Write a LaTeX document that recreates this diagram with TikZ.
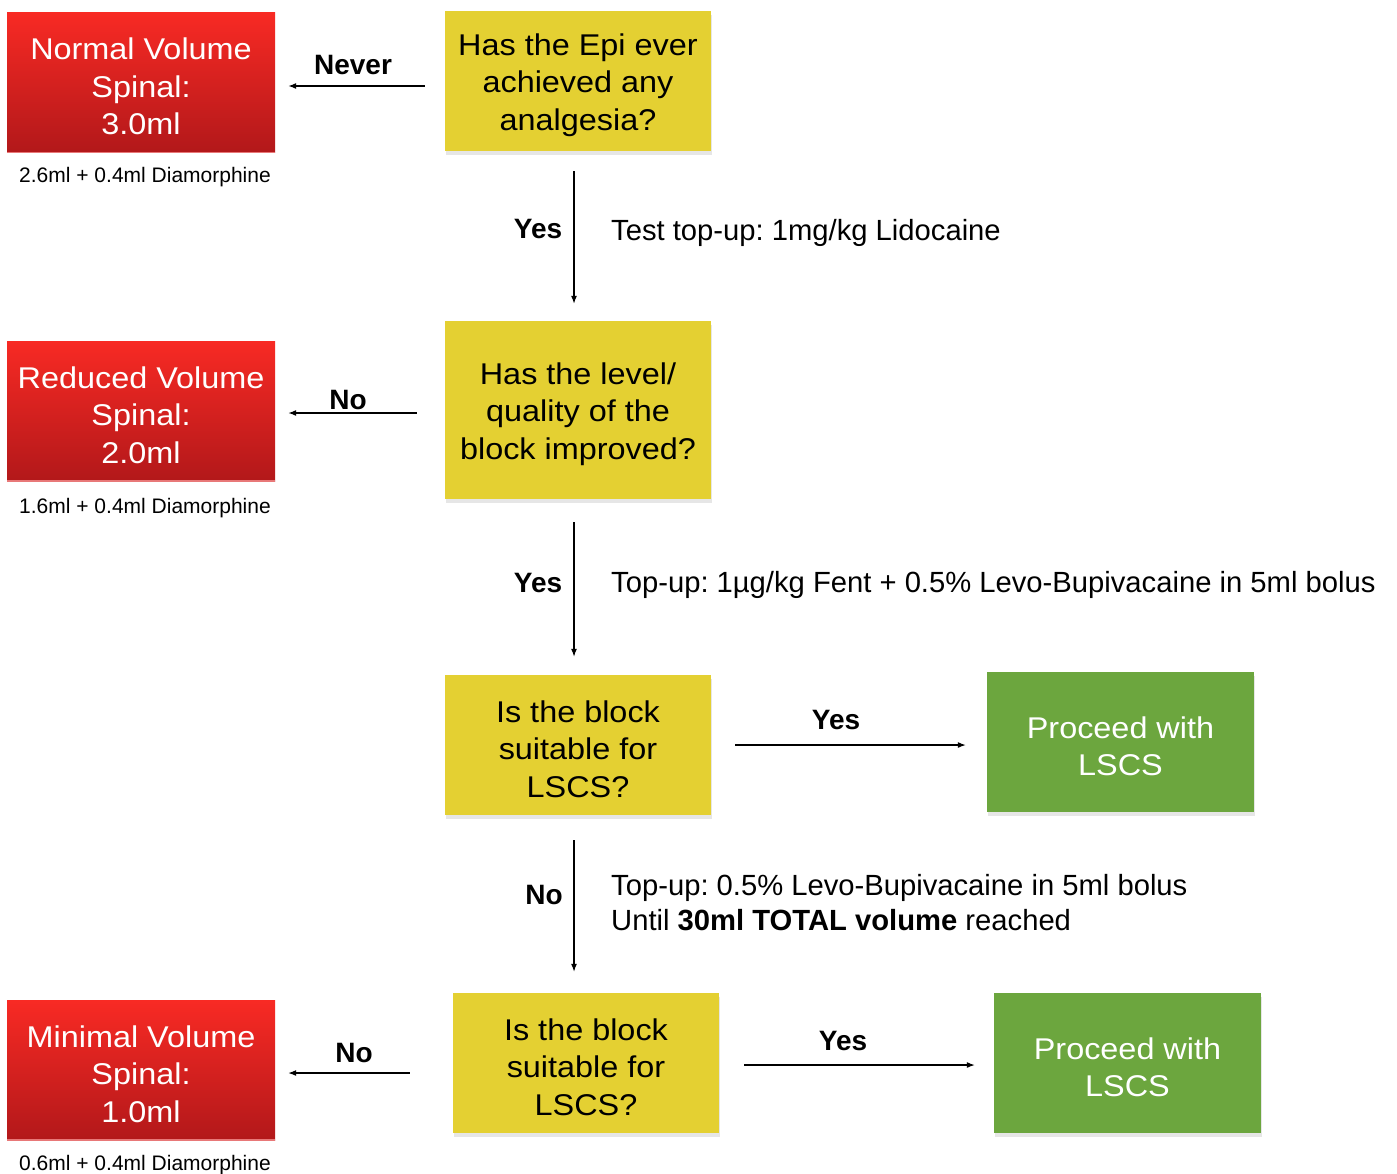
\documentclass[tikz,border=0pt]{standalone}
\usepackage{fontspec}
\setmainfont{Liberation Sans}
\newfontfamily\boxfont[FakeStretch=1.08]{Liberation Sans}
\usetikzlibrary{arrows.meta,shadows,calc}
\definecolor{redtop}{RGB}{248,42,36}
\definecolor{redbot}{RGB}{178,24,26}
\definecolor{redline}{RGB}{232,120,120}
\definecolor{epiyellow}{RGB}{228,208,50}
\definecolor{lscsgreen}{RGB}{108,166,62}
\frenchspacing
\newcommand\tstr{\rule{0pt}{30pt}}
\begin{document}
\begin{tikzpicture}[x=1pt,y=-1pt,
  box/.style={minimum width=266pt, minimum height=140pt, inner sep=0pt, align=center,
    font=\boxfont\fontsize{30}{37.5}\selectfont},
  redbox/.style={box, top color=redtop, bottom color=redbot, text=white, minimum width=268pt},
  yelbox/.style={box, fill=epiyellow, drop shadow={shadow xshift=1pt, shadow yshift=-4pt, opacity=0.2}},
  grnbox/.style={box, fill=lscsgreen, text=white, minimum width=267pt, drop shadow={shadow xshift=1pt, shadow yshift=-4pt, opacity=0.2}},
  lbl/.style={font=\bfseries\fontsize{28}{34}\selectfont},
  note/.style={anchor=west, align=left, inner sep=0pt, font=\fontsize{29.2}{35}\selectfont},
  captxt/.style={font=\fontsize{21}{25}\selectfont},
  arr/.style={line width=1.2pt, -{Latex[length=8pt,width=6pt]}}]
\useasboundingbox (0,0) rectangle (1397,1173);

% red boxes
\node[redbox] (r1) at (141,82.5) {\tstr Normal Volume\\Spinal:\\3.0ml};
\node[redbox] (r2) at (141,411) {\tstr Reduced Volume\\Spinal:\\2.0ml};
\node[redbox] (r3) at (141,1070) {\tstr Minimal Volume\\Spinal:\\1.0ml};
\foreach \r in {r1,r2,r3}{\draw[redline, line width=1.5pt] (\r.south west) -- (\r.south east);}
\node[captxt] (c1) at (145,177) {2.6ml + 0.4ml Diamorphine};
\node[captxt] (c2) at (145,508) {1.6ml + 0.4ml Diamorphine};
\node[captxt] (c3) at (145,1165) {0.6ml + 0.4ml Diamorphine};

% yellow boxes
\node[yelbox] (y1) at (578,81) {\tstr Has the Epi ever\\achieved any\\analgesia?};
\node[yelbox, minimum height=178pt] (y2) at (578,410) {\tstr Has the level/\\quality of the\\block improved?};
\node[yelbox] (y3) at (578,745) {\tstr Is the block\\suitable for\\LSCS?};
\node[yelbox] (y4) at (586,1063) {\tstr Is the block\\suitable for\\LSCS?};

% green boxes
\node[grnbox] (g1) at (1120.5,742) {\tstr Proceed with\\LSCS};
\node[grnbox] (g2) at (1127.5,1063) {\tstr Proceed with\\LSCS};

% connectors
\draw[arr] ($(y1.west)+(-20,5)$) -- ($(r1.east)+(13,3.5)$);
\draw[arr] ($(y2.west)+(-28,3)$) -- ($(r2.east)+(13,2)$);
\draw[arr] ($(y4.west)+(-43,10)$) -- ($(r3.east)+(13,3)$);
\draw[arr] ($(y1.south)+(-4,20)$) -- ($(y2.north)+(-4,-17)$);
\draw[arr] ($(y2.south)+(-4,23)$) -- ($(y3.north)+(-4,-18)$);
\draw[arr] ($(y3.south)+(-4,25)$) -- ($(y4.north)+(-12,-21)$);
\draw[arr] ($(y3.east)+(24,0)$) -- ($(g1.west)+(-21,3)$);
\draw[arr] ($(y4.east)+(25,2)$) -- ($(g2.west)+(-19,2)$);

% labels
\node[lbl] (l1) at (353,65) {Never};
\node[lbl] (l2) at (348,400) {No};
\node[lbl] (l3) at (354,1053) {No};
\node[lbl] (l4) at (538,229) {Yes};
\node[lbl] (l5) at (538,583) {Yes};
\node[lbl] (l6) at (544,895) {No};
\node[lbl] (l7) at (836,720) {Yes};
\node[lbl] (l8) at (843,1041) {Yes};

\node[note] (n1) at (611,232.5) {Test top-up: 1mg/kg Lidocaine};
\node[note] (n2) at (611,584.5) {Top-up: 1µg/kg Fent + 0.5\% Levo-Bupivacaine in 5ml bolus};
\node[note] (n3) at (611,903) {Top-up: 0.5\% Levo-Bupivacaine in 5ml bolus\\Until \textbf{30ml TOTAL volume} reached};
\end{tikzpicture}
\end{document}
